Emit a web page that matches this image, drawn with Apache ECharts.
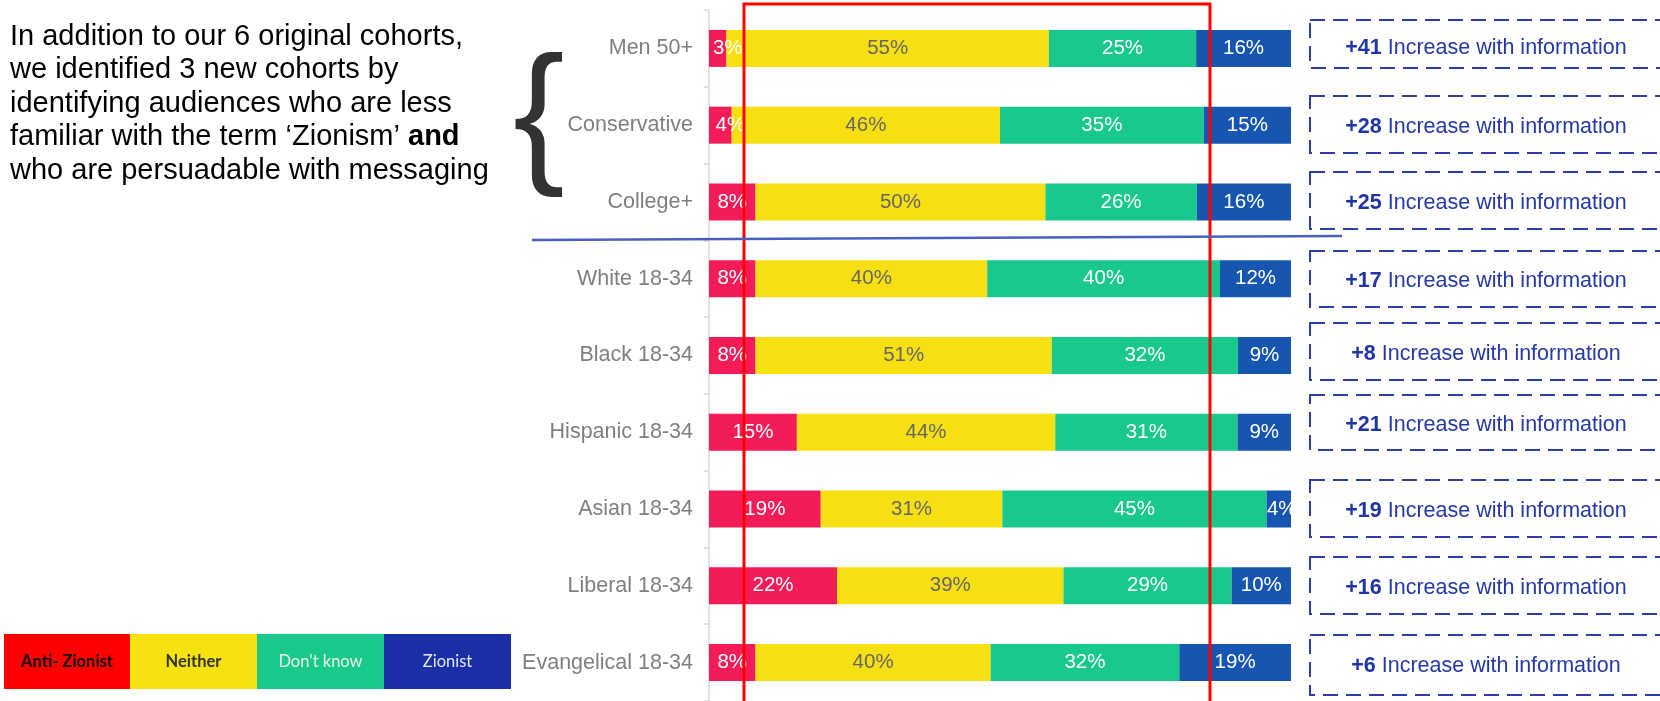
<!DOCTYPE html>
<html>
<head>
<meta charset="utf-8">
<script src="https://cdn.jsdelivr.net/npm/echarts@6/dist/echarts.min.js"></script>
<style>
  html, body { margin: 0; padding: 0; background: #ffffff; }
  #chart { width: 1660px; height: 701px; }
</style>
</head>
<body>
<div id="chart"></div>
<script>
// ---- data ----
const categories = ['Men 50+', 'Conservative', 'College+', 'White 18-34', 'Black 18-34', 'Hispanic 18-34', 'Asian 18-34', 'Liberal 18-34', 'Evangelical 18-34'];
const seriesNames = ['Anti- Zionist', 'Neither', "Don't know", 'Zionist'];
const antiZionist = [3.0, 3.9, 8.0, 8.0, 8.0, 15.1, 19.2, 22.0, 8.0];
const neither = [55.4, 46.1, 49.8, 39.8, 50.9, 44.4, 31.2, 38.9, 40.4];
const dontKnow = [25.3, 35.0, 26.0, 40.0, 32.0, 31.3, 45.4, 28.9, 32.4];
const zionist = [16.3, 15.0, 16.2, 12.2, 9.1, 9.2, 4.2, 10.2, 19.2];
const increases = [41, 28, 25, 17, 8, 21, 19, 16, 6];
const introLines = [
  'In addition to our 6 original cohorts,',
  'we identified 3 new cohorts by',
  'identifying audiences who are less',
  'familiar with the term \u2018Zionism\u2019 ',
  'who are persuadable with messaging'
];

// ---- layout / style (not data) ----
const barColors = ['#f31c57', '#f6e011', '#19c98c', '#1656b0'];
const labelColors = ['#ffffff', '#666666', '#ffffff', '#ffffff'];
const legendColors = ['#ff0000', '#f6e20f', '#19c98c', '#1a2fa5'];
const legendTextColors = ['#111111', '#333333', '#e8f5ec', '#e2e7f7'];
const legendBold = [true, true, false, false];
const legendX = [4, 130, 257, 384];
const legendW = [126, 127, 127, 127];
const boxGeom = [[20, 48], [96, 57], [172, 57], [251, 56], [323, 57], [395, 55], [480, 57], [557, 57], [635, 60]];
const boxTextShift = [4.5, 2.5, 2.5, 2.5, 2.5, 2.5, 2.5, 2.5, 1.5];
const FONT = '"Liberation Sans", Arial, sans-serif';

const chart = echarts.init(document.getElementById('chart'), null, { renderer: 'canvas' });

const allValues = [antiZionist, neither, dontKnow, zionist];
const series = allValues.map((vals, i) => ({
  name: seriesNames[i],
  type: 'bar',
  stack: 'total',
  barWidth: 37,
  data: vals.map(v => (i === 0 && v < 5) ? { value: v, label: { offset: [10, 0] } }
                     : (i === 3 && v < 5) ? { value: v, label: { offset: [3, 0] } } : v),
  itemStyle: { color: barColors[i] },
  label: {
    show: true,
    position: 'inside',
    color: labelColors[i],
    fontSize: 20.5,
    fontFamily: FONT,
    formatter: p => Math.round(p.value) + '%'
  },
  emphasis: { disabled: true },
  silent: true
}));

const graphics = [];

// red highlight box
graphics.push({
  type: 'rect', z: 100,
  shape: { x: 744, y: 4, width: 466, height: 720 },
  style: { fill: 'none', stroke: '#ff0000', lineWidth: 3 }
});

// divider line
graphics.push({
  type: 'line', z: 100,
  shape: { x1: 532, y1: 240, x2: 1342, y2: 236 },
  style: { stroke: '#4a5fc1', lineWidth: 2.5 }
});

// intro text
graphics.push({
  type: 'text', z: 100,
  x: 10, y: 20,
  style: {
    text: introLines.map((l, i) => i === 3 ? '{n|' + l + '}{b|and}' : '{n|' + l + '}').join('\n'),
    fontFamily: FONT,
    fontSize: 29,
    lineHeight: 33.5,
    fill: '#000000',
    verticalAlign: 'top',
    rich: {
      n: { fontSize: 29, fontFamily: FONT, fill: '#000000', lineHeight: 33.5 },
      b: { fontSize: 29, fontFamily: FONT, fill: '#000000', fontWeight: 'bold', lineHeight: 33.5 }
    }
  }
});

// brace
graphics.push({
  type: 'text', z: 100,
  x: 513, y: 122,
  style: {
    text: '{',
    fontFamily: FONT,
    fontSize: 155,
    fill: '#333333',
    verticalAlign: 'middle',
    align: 'left'
  }
});

// legend boxes
seriesNames.forEach((n, i) => {
  graphics.push({
    type: 'rect', z: 100,
    shape: { x: legendX[i], y: 634, width: legendW[i], height: 55 },
    style: { fill: legendColors[i] }
  });
  graphics.push({
    type: 'text', z: 101,
    x: legendX[i] + legendW[i] / 2, y: 662,
    style: {
      text: n,
      fontFamily: 'Lato, "Open Sans", sans-serif',
      fontSize: 16.5,
      fontWeight: legendBold[i] ? 'bold' : 'normal',
      fill: legendTextColors[i],
      align: 'center',
      verticalAlign: 'middle'
    }
  });
});

// increase boxes
increases.forEach((v, i) => {
  const g = boxGeom[i];
  graphics.push({
    type: 'rect', z: 100,
    shape: { x: 1310, y: g[0], width: 352, height: g[1] },
    style: { fill: 'none', stroke: '#2a3fae', lineWidth: 2, lineDash: [15, 8] }
  });
  graphics.push({
    type: 'text', z: 101,
    x: 1486, y: g[0] + g[1] / 2 + boxTextShift[i],
    style: {
      text: '{b|+' + v + '}{n| Increase with information}',
      align: 'center',
      verticalAlign: 'middle',
      fill: '#2438a8',
      rich: {
        b: { fontSize: 21.5, fontFamily: FONT, fontWeight: 'bold', fill: '#1f35a5' },
        n: { fontSize: 21.5, fontFamily: FONT, fill: '#2438a8' }
      }
    }
  });
});

chart.setOption({
  animation: false,
  backgroundColor: '#ffffff',
  grid: { left: 709, right: 369, top: 10, bottom: -3, containLabel: false },
  xAxis: { type: 'value', min: 0, max: 100, show: false },
  yAxis: {
    type: 'category',
    inverse: true,
    data: categories,
    axisLine: { show: true, lineStyle: { color: '#d9d9d9', width: 1.5 } },
    axisTick: { show: true, length: 5, lineStyle: { color: '#d9d9d9', width: 1.5 } },
    axisLabel: { color: '#7f7f7f', fontSize: 21.5, fontFamily: FONT, margin: 16 },
    splitLine: { show: false }
  },
  series: series,
  graphic: graphics
});
</script>
</body>
</html>
